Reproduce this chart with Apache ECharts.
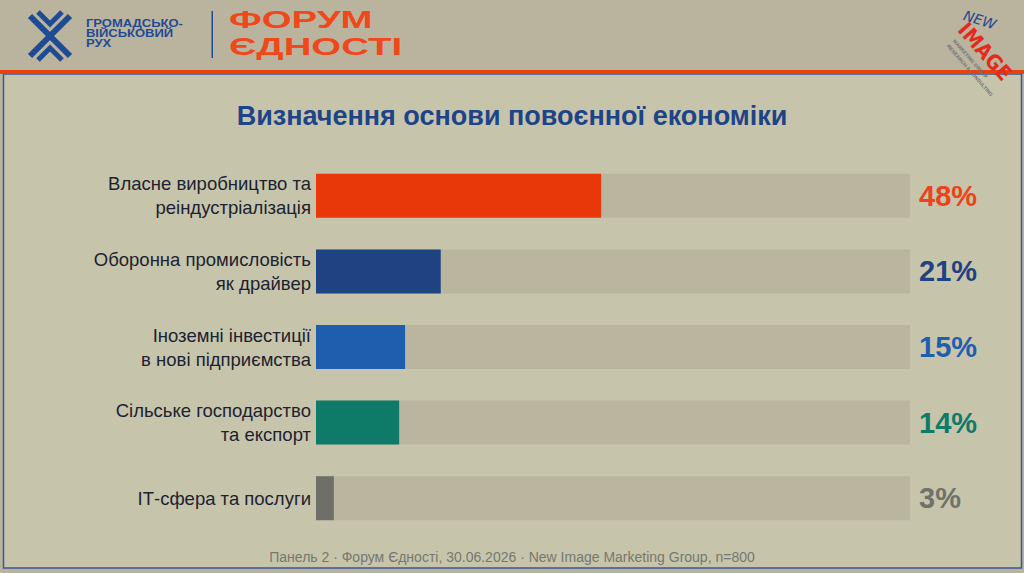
<!DOCTYPE html>
<html>
<head>
<meta charset="utf-8">
<style>
  html, body { margin: 0; padding: 0; background: #bab49e; }
  #chart { width: 1024px; height: 573px; }
</style>
<script src="https://cdn.jsdelivr.net/npm/echarts@6/dist/echarts.min.js"></script>
</head>
<body>
<div id="chart"></div>
<script>
var categories = [
  'Власне виробництво та\nреіндустріалізація',
  'Оборонна промисловість\nяк драйвер',
  'Іноземні інвестиції\nв нові підприємства',
  'Сільське господарство\nта експорт',
  'ІТ-сфера та послуги'
];
var shares = [48, 21, 15, 14, 3];
var barColors = ['#e8380a', '#1e4282', '#1f5eae', '#0e7a68', '#6e6f69'];
var labelColors = ['#ef4218', '#1e4282', '#1f5eae', '#0e7a68', '#6f716b'];

(function() {
  var font = '"Liberation Sans", Arial, sans-serif';
  var blue = '#1f4a94';
  var orange = '#f0481a';
  var chart = echarts.init(document.getElementById('chart'), null, { renderer: 'svg' });

  var option = {
    animation: false,
    backgroundColor: '#bab49e',
    title: {
      text: 'Визначення основи повоєнної економіки',
      left: 'center',
      top: 97,
      textStyle: { color: '#1e4488', fontSize: 27, fontWeight: 'bold', fontFamily: font }
    },
    graphic: [
      // panel + header rule
      { type: 'rect', z: -5, shape: { x: 3.5, y: 74, width: 1018, height: 494 },
        style: { fill: '#c6c5ac', stroke: '#3a5896', lineWidth: 1.5 } },
      { type: 'rect', z: -4, shape: { x: 0, y: 70, width: 1024, height: 4 }, style: { fill: '#e8410c' } },
      // left logo mark
      { type: 'polyline', shape: { points: [[30, 16], [70, 56]] }, style: { stroke: blue, lineWidth: 6 } },
      { type: 'polyline', shape: { points: [[70, 16], [30, 56]] }, style: { stroke: blue, lineWidth: 6 } },
      { type: 'polyline', shape: { points: [[38, 12], [50, 24], [62, 12]] }, style: { stroke: blue, lineWidth: 5, fill: null } },
      { type: 'polyline', shape: { points: [[38, 60], [50, 48], [62, 60]] }, style: { stroke: blue, lineWidth: 5, fill: null } },
      { type: 'text', x: 86, y: 24, scaleX: 1.3, style: { text: 'ГРОМАДСЬКО-', font: 'bold 10px ' + font, fill: blue, textVerticalAlign: 'middle' } },
      { type: 'text', x: 86, y: 34, scaleX: 1.3, style: { text: 'ВІЙСЬКОВИЙ', font: 'bold 10px ' + font, fill: blue, textVerticalAlign: 'middle' } },
      { type: 'text', x: 86, y: 44, scaleX: 1.3, style: { text: 'РУХ', font: 'bold 10px ' + font, fill: blue, textVerticalAlign: 'middle' } },
      { type: 'rect', shape: { x: 211.5, y: 11, width: 1.5, height: 47 }, style: { fill: blue } },
      { type: 'text', x: 229, y: 20, scaleX: 1.6, style: { text: 'ФОРУМ', font: '900 24px ' + font, fill: orange, textVerticalAlign: 'middle' } },
      { type: 'text', x: 229, y: 47, scaleX: 1.6, style: { text: 'ЄДНОСТІ', font: '900 24px ' + font, fill: orange, textVerticalAlign: 'middle' } },
      // right logo
      { type: 'text', x: 964, y: 15, rotation: -0.3, style: { text: 'NEW', font: 'italic 14px "DejaVu Sans"', fill: '#24468f', textVerticalAlign: 'middle' } },
      { type: 'text', x: 962, y: 26, rotation: -0.85, style: { text: 'IMAGE', font: 'bold 21px "DejaVu Sans Condensed"', fill: '#e42a1c', textVerticalAlign: 'middle' } },
      { type: 'text', x: 954, y: 40, rotation: -0.85, style: { text: 'MARKETING GROUP', font: 'bold 5px ' + font, fill: '#6f6f78', textVerticalAlign: 'middle' } },
      { type: 'text', x: 948, y: 45, rotation: -0.85, style: { text: 'RESEARCH & CONSULTING', font: 'bold 5px ' + font, fill: '#6f6f78', textVerticalAlign: 'middle' } },
      // footer
      { type: 'text', x: 512, y: 557, style: {
          text: 'Панель 2 · Форум Єдності, 30.06.2026 · New Image Marketing Group, n=800',
          font: '14px ' + font, fill: '#77776f', textAlign: 'center', textVerticalAlign: 'middle' } }
    ],
    grid: { left: 316, right: 114, top: 158, bottom: 37, containLabel: false },
    xAxis: { type: 'value', min: 0, max: 100, show: false },
    yAxis: {
      type: 'category',
      inverse: true,
      data: categories,
      axisLine: { show: false },
      axisTick: { show: false },
      axisLabel: { color: '#1c2230', fontSize: 18.5, lineHeight: 24, fontFamily: font, margin: 5, align: 'right' }
    },
    series: [
      {
        type: 'bar',
        silent: true,
        barWidth: 44,
        barGap: '-100%',
        z: 1,
        data: shares.map(function(v, i) {
          return { value: 100, label: { color: labelColors[i] } };
        }),
        itemStyle: { color: '#bab59f' },
        label: {
          show: true,
          position: 'right',
          distance: 9,
          fontSize: 29,
          fontWeight: 'bold',
          fontFamily: font,
          formatter: function(p) { return shares[p.dataIndex] + '%'; }
        }
      },
      {
        type: 'bar',
        barWidth: 44,
        barGap: '-100%',
        z: 2,
        data: shares.map(function(v, i) {
          return { value: v, itemStyle: { color: barColors[i] } };
        })
      }
    ]
  };

  chart.setOption(option);
  window.addEventListener('resize', function() { chart.resize(); });
})();
</script>
</body>
</html>
